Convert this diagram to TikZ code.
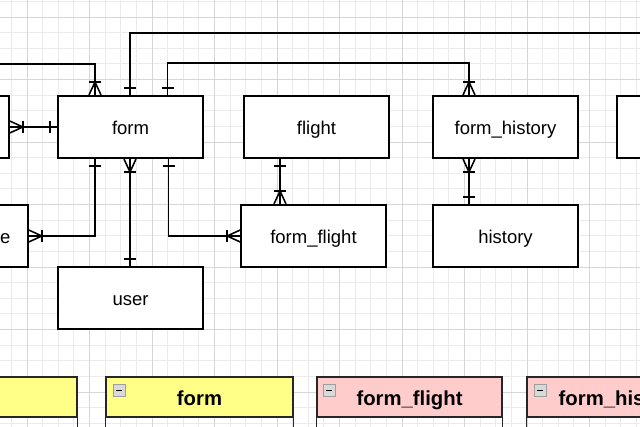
\documentclass[tikz,border=0pt]{standalone}
\usepackage{fontspec}
\setmainfont{Liberation Sans}
\usetikzlibrary{decorations.markings}
\definecolor{gridminor}{HTML}{EBEBEB}
\definecolor{gridmajor}{HTML}{D6D6D6}
\definecolor{hdryellow}{HTML}{FFFF88}
\definecolor{hdrpink}{HTML}{FFCCCC}
\tikzset{
  ent/.style={draw=black, fill=white, line width=1.56pt, minimum width=145pt, minimum height=62.5pt, inner sep=0pt,
    font=\fontsize{18.5}{22}\selectfont, text height=18pt, text depth=2pt},
  hdr/.style={draw=black!85, line width=1.4pt, minimum height=40pt, inner sep=0pt,
    font=\fontsize{20.3}{24}\selectfont\bfseries, text height=19.5pt, text depth=1.5pt},
  tblbody/.style={draw=black!85, line width=1.4pt},
  icon/.style={draw=gray!75, fill=gray!30, line width=0.8pt},
  conn/.style={draw=black, line width=1.56pt},
  mk/.style={draw=black, line width=1.56pt},
  oneEnd/.style={postaction={decorate,decoration={markings,mark=at position 1 with {\draw[mk] (-7pt,-6pt) -- (-7pt,6pt);}}}},
  oneStart/.style={postaction={decorate,decoration={markings,mark=at position 0 with {\draw[mk] (7pt,-6pt) -- (7pt,6pt);}}}},
  manyEnd/.style={postaction={decorate,decoration={markings,mark=at position 1 with {\draw[mk] (-13pt,-6pt) -- (-13pt,6pt); \draw[mk] (0pt,-6pt) -- (-13pt,0pt) -- (0pt,6pt);}}}},
  manyStart/.style={postaction={decorate,decoration={markings,mark=at position 0 with {\draw[mk] (13pt,-6pt) -- (13pt,6pt); \draw[mk] (0pt,-6pt) -- (13pt,0pt) -- (0pt,6pt);}}}},
}
\begin{document}
\begin{tikzpicture}[x=1pt,y=-1pt]
\useasboundingbox (0,0) rectangle (640,427);
\clip (0,0) rectangle (640,427);
\fill[white] (0,0) rectangle (640,427);
% grid
\foreach \i in {0,...,42} \draw[gridminor, line width=0.9pt] ({-4.25+15.625*\i},0) -- ({-4.25+15.625*\i},427);
\foreach \i in {0,...,28} \draw[gridminor, line width=0.9pt] (0,{1.375+15.625*\i}) -- (640,{1.375+15.625*\i});
\foreach \i in {0,...,10} \draw[gridmajor, line width=0.9pt] ({27+62.5*\i},0) -- ({27+62.5*\i},427);
\foreach \i in {0,...,6} \draw[gridmajor, line width=0.9pt] (0,{17+62.5*\i}) -- (640,{17+62.5*\i});

% entities
\node[ent] (topleft) at (-63.5,127) {};
\node[ent] (form) at (130.5,127) {form};
\node[ent] (flight) at (316.5,127) {flight};
\node[ent] (formhistory) at (505.5,127) {form\_history};
\node[ent] (rightbox) at (689.5,127) {};
\node[ent] (leftmid) at (-44.5,236) {};
\node[font=\fontsize{18.5}{22}\selectfont, anchor=base east, inner sep=0pt] (leftmidtext) at (10.5,243.5) {e};
\node[ent] (formflight) at (313.5,236) {form\_flight};
\node[ent] (history) at (505.5,236) {history};
\node[ent] (user) at (130.5,298) {user};

% free ends
\coordinate (c1) at (-10,64);
\coordinate (c2) at (660,33);

% connectors
\draw[conn, manyEnd] (c1) -| ([xshift=-35.5pt]form.north);
\draw[conn, oneStart] ([xshift=-0.5pt]form.north) |- (c2);
\draw[conn, oneStart, manyEnd] ([xshift=37pt]form.north) -- ++(0,-32) -| ([xshift=-36.5pt]formhistory.north);
\draw[conn, manyStart, oneEnd] (topleft.east) -- (form.west);
\draw[conn, oneStart, manyEnd] ([xshift=-35.5pt]form.south) |- (leftmid.east);
\draw[conn, manyStart, oneEnd] ([xshift=-0.5pt]form.south) -- ([xshift=-0.5pt]user.north);
\draw[conn, oneStart, manyEnd] ([xshift=38pt]form.south) |- (formflight.west);
\draw[conn, oneStart, manyEnd] ([xshift=-36.5pt]flight.south) -- ([xshift=-36.5pt]flight.south |- formflight.north);
\draw[conn, manyStart, oneEnd] ([xshift=-36.5pt]formhistory.south) -- ([xshift=-36.5pt]formhistory.south |- history.north);

% tables
\node[hdr, fill=hdryellow, minimum width=187.5pt] (tleft) at (-16.75,397) {};
\draw[tblbody] (tleft.south west) -- ++(0,40) (tleft.south east) -- ++(0,40);

\node[hdr, fill=hdryellow, minimum width=187pt] (tform) at (199.5,397) {form};
\draw[tblbody] (tform.south west) -- ++(0,40) (tform.south east) -- ++(0,40);
\draw[icon] ([shift={(8,8)}]tform.north west) rectangle ++(12,12);
\draw[black, line width=1.2pt] ([shift={(11,14)}]tform.north west) -- ++(6,0);

\node[hdr, fill=hdrpink, minimum width=185pt] (tformflight) at (409.5,397) {form\_flight};
\draw[tblbody] (tformflight.south west) -- ++(0,40) (tformflight.south east) -- ++(0,40);
\draw[icon] ([shift={(7,8)}]tformflight.north west) rectangle ++(12,12);
\draw[black, line width=1.2pt] ([shift={(10,14)}]tformflight.north west) -- ++(6,0);

\node[hdr, fill=hdrpink, minimum width=187.5pt] (tformhistory) at (620.75,397) {form\_history};
\draw[tblbody] (tformhistory.south west) -- ++(0,40) (tformhistory.south east) -- ++(0,40);
\draw[icon] ([shift={(8,8)}]tformhistory.north west) rectangle ++(12,12);
\draw[black, line width=1.2pt] ([shift={(11,14)}]tformhistory.north west) -- ++(6,0);
\end{tikzpicture}
\end{document}
